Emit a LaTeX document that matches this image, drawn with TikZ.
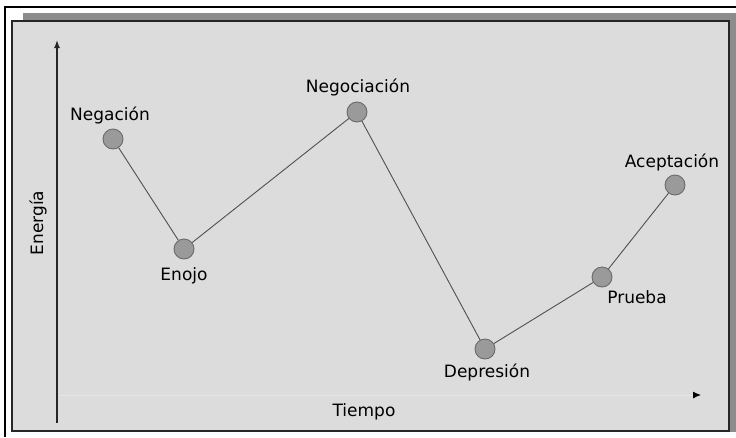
\documentclass[tikz,border=0pt]{standalone}
\usepackage{fontspec}
\setmainfont{DejaVu Sans}
\usetikzlibrary{arrows.meta}
\definecolor{bgpanel}{HTML}{DCDCDC}
\definecolor{shadowgray}{HTML}{8C8C8C}
\definecolor{dotfill}{HTML}{9A9A9A}
\definecolor{dotedge}{HTML}{6A6A6A}
\definecolor{linkgray}{HTML}{505050}
\tikzset{
  stage/.style={circle, fill=dotfill, draw=dotedge, line width=0.9pt, minimum size=20pt, inner sep=0pt},
  stagetext/.style={font=\fontsize{17}{20}\selectfont, text=black, inner sep=0pt},
  link/.style={draw=linkgray, line width=0.9pt},
  axisline/.style={line width=1.4pt, draw=black!85}
}
\begin{document}
\begin{tikzpicture}[x=1pt,y=-1pt]
\useasboundingbox (0,0) rectangle (736,437);
\fill[white] (0,0) rectangle (736,437);
% outer frame
\draw[line width=2pt, black] (5,437) -- (5,7) -- (736,7);
% shadow bands
\fill[shadowgray] (23,13) rectangle (736,21);
\fill[shadowgray] (729,13) rectangle (736,432);
% panel
\draw[fill=bgpanel, line width=1.5pt, draw=black!85] (12,21) rectangle (729,431);
% axes
\coordinate (ybot) at (57,423);
\coordinate (ytop) at (57,40);
\draw[axisline, -{Latex[length=8pt,width=6pt]}] (ybot) -- (ytop);
\coordinate (xstart) at (60,395);
\coordinate (xend) at (701,395);
\draw[draw=bgpanel!70!white, line width=1pt, -{Latex[length=8pt,width=7pt,color=black]}] (xstart) -- (xend);
\node[stagetext, rotate=90] (ylab) at (38,223) {Energía};
\node[stagetext] (xlab) at (364,412) {Tiempo};
% stages
\node[stage] (neg) at (113,139) {};
\node[stage] (eno) at (184,249) {};
\node[stage] (nego) at (357,112) {};
\node[stage] (dep) at (485,349) {};
\node[stage] (pru) at (602,277) {};
\node[stage] (ace) at (675,185) {};
\draw[link] (neg) -- (eno) -- (nego) -- (dep) -- (pru) -- (ace);
% labels
\node[stagetext] (negl) at (110,115) {Negación};
\node[stagetext] (enol) at (184,276) {Enojo};
\node[stagetext] (negol) at (358,87) {Negociación};
\node[stagetext] (depl) at (487,372) {Depresión};
\node[stagetext] (prul) at (637,297) {Prueba};
\node[stagetext] (acel) at (672,162) {Aceptación};
\end{tikzpicture}
\end{document}
